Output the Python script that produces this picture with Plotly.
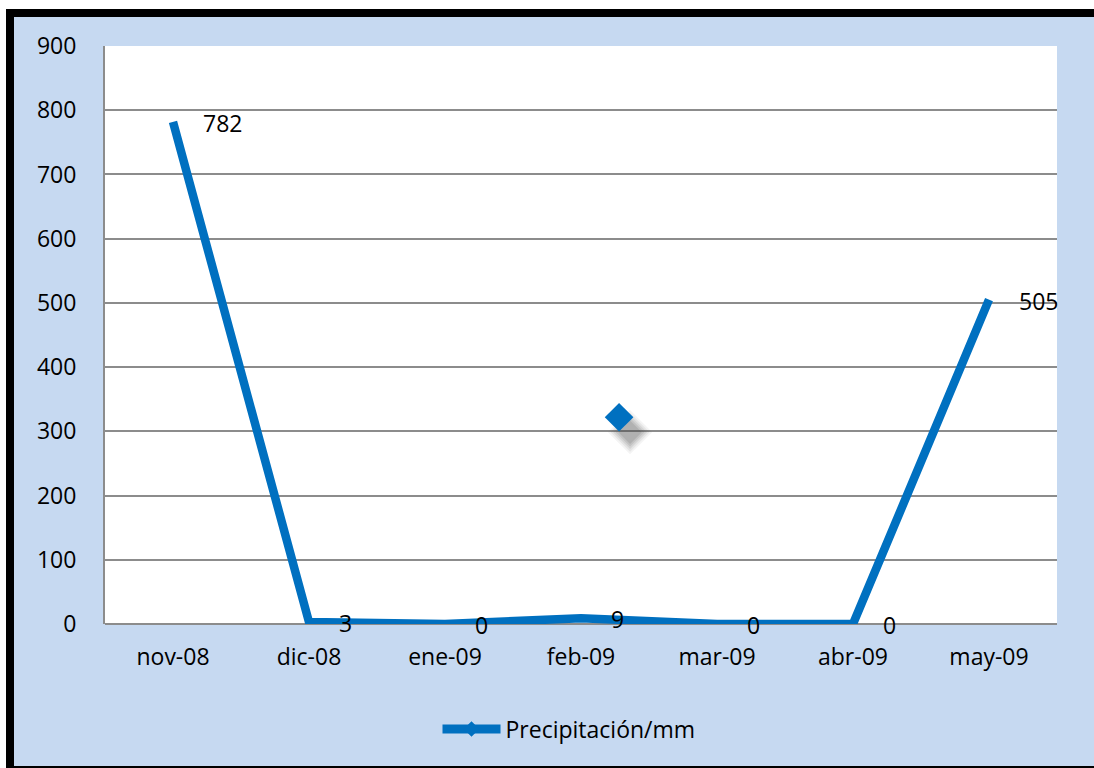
import plotly.graph_objects as go

# Monthly precipitation series
months = ["nov-08", "dic-08", "ene-09", "feb-09", "mar-09", "abr-09", "may-09"]
precip_mm = [782, 3, 0, 9, 0, 0, 505]
series_name = "Precipitación/mm"

# Loose diamond marker floating inside the plot
loose_marker_x = [3.28]
loose_marker_y = [322]
y_ticks = [0, 100, 200, 300, 400, 500, 600, 700, 800, 900]

W, H = 1094, 768
L, R, T, B = 105, 37, 46, 144
PW, PH = W - L - R, H - T - B
Y_MAX = 900

BLUE = "#0070C0"
PANEL = "#C6D9F1"
GRID = "#8C8C8C"
FONT = "Open Sans"
FS = 23

xs = list(range(len(months)))


def px_x(p):
    return (p - L) / PW


def px_y(p):
    return (H - B - p) / PH


fig = go.Figure()

# soft drop shadow of the loose marker, offset down and to the right
shadow_dx = 11 * len(months) / PW
shadow_dy = 15 * Y_MAX / PH
for size, alpha in [(34, 0.06), (30, 0.08), (26, 0.10), (22, 0.12), (18, 0.14)]:
    fig.add_trace(go.Scatter(
        x=[v + shadow_dx for v in loose_marker_x],
        y=[v - shadow_dy for v in loose_marker_y],
        mode="markers",
        marker=dict(symbol="diamond", size=size, color=f"rgba(70,70,70,{alpha})", line=dict(width=0)),
        showlegend=False, hoverinfo="skip",
    ))

fig.add_trace(go.Scatter(
    x=xs, y=precip_mm, mode="lines",
    line=dict(color=BLUE, width=8.5),
    showlegend=False, hoverinfo="skip",
))

fig.add_trace(go.Scatter(
    x=loose_marker_x, y=loose_marker_y, mode="markers",
    marker=dict(symbol="diamond", size=22, color=BLUE, line=dict(width=0)),
    showlegend=False, hoverinfo="skip",
))

# legend entry: line with a diamond
fig.add_trace(go.Scatter(
    x=[None], y=[None], mode="lines+markers", name=series_name,
    line=dict(color=BLUE, width=9),
    marker=dict(symbol="diamond", size=12, color=BLUE),
))

for xi, v in zip(xs, precip_mm):
    fig.add_annotation(
        x=xi, y=v, text=str(v), showarrow=False,
        xanchor="left", yanchor="middle", xshift=28, yshift=-1,
        font=dict(family=FONT, size=FS, color="black"),
    )

shapes = [
    # white margin outside the framed panel
    dict(type="rect", xref="paper", yref="paper", x0=px_x(0), x1=px_x(6), y0=px_y(H), y1=px_y(0),
         fillcolor="white", line=dict(width=0), layer="above"),
    dict(type="rect", xref="paper", yref="paper", x0=px_x(0), x1=px_x(W), y0=px_y(9), y1=px_y(0),
         fillcolor="white", line=dict(width=0), layer="above"),
    # black frame
    dict(type="rect", xref="paper", yref="paper", x0=px_x(6), x1=px_x(W), y0=px_y(17), y1=px_y(9),
         fillcolor="black", line=dict(width=0), layer="above"),
    dict(type="rect", xref="paper", yref="paper", x0=px_x(6), x1=px_x(14), y0=px_y(H), y1=px_y(9),
         fillcolor="black", line=dict(width=0), layer="above"),
    dict(type="rect", xref="paper", yref="paper", x0=px_x(6), x1=px_x(W), y0=px_y(H), y1=px_y(766),
         fillcolor="black", line=dict(width=0), layer="above"),
]

fig.update_layout(
    width=W, height=H,
    margin=dict(l=L, r=R, t=T, b=B, autoexpand=False),
    paper_bgcolor=PANEL,
    plot_bgcolor="white",
    font=dict(family=FONT, size=FS, color="black"),
    shapes=shapes,
    xaxis=dict(
        range=[-0.5, 6.5], tickvals=xs, ticktext=months,
        showgrid=False, zeroline=False, showline=False,
        ticks="", ticklabelstandoff=17, fixedrange=True,
    ),
    yaxis=dict(
        range=[0, Y_MAX], tickvals=y_ticks,
        showgrid=True, gridcolor=GRID, gridwidth=1.5,
        zeroline=True, zerolinecolor=GRID, zerolinewidth=2,
        showline=True, linecolor=GRID, linewidth=2,
        ticks="", ticklabelstandoff=22, fixedrange=True,
    ),
    legend=dict(
        x=0.5 - 12 / PW, xanchor="center", y=px_y(729), yanchor="middle",
        orientation="h", bgcolor="rgba(0,0,0,0)",
        font=dict(family=FONT, size=FS), itemwidth=58,
    ),
)

fig.write_html("out.html")
